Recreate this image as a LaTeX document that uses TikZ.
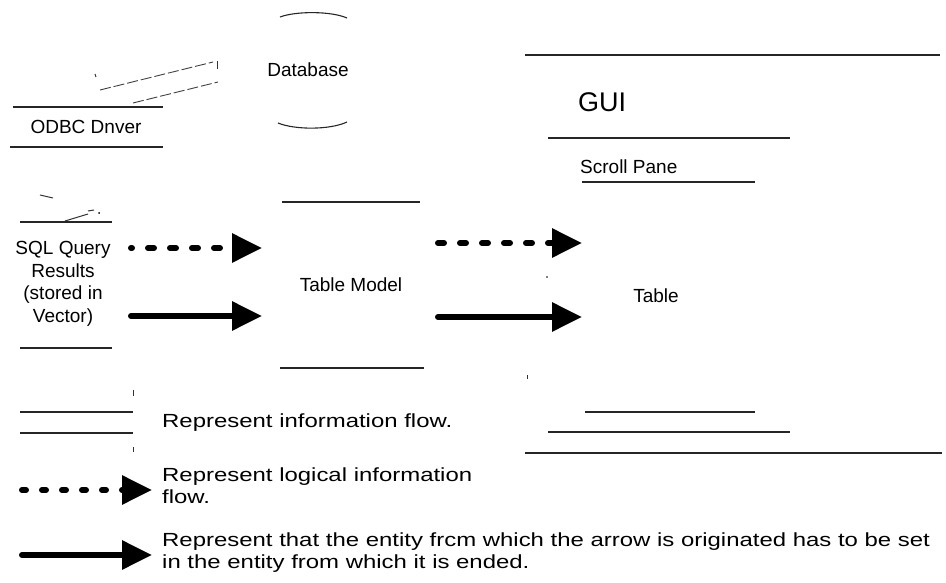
\documentclass[tikz,border=0pt]{standalone}
\usepackage{fontspec}
\setmainfont{Liberation Sans}
\newfontfamily\legfont{Liberation Sans}[FakeStretch=1.26]
\usetikzlibrary{arrows.meta}
\begin{document}
\begin{tikzpicture}[x=1pt,y=-1pt,
  lbl/.style={inner sep=0pt, font=\fontsize{19}{22.5}\selectfont},
  leg/.style={inner sep=0pt, anchor=west, align=left, font=\legfont\fontsize{19}{22}\selectfont},
  faint/.style={draw=black!85, line width=1.1pt},
  speck/.style={draw=black!80, line width=1pt},
  slant/.style={draw=black!75, line width=0.9pt, dash pattern=on 11pt off 3pt},
  solidarrow/.style={line width=6pt, line cap=round, -{Triangle[length=30pt 0 0,width=28pt 0 0]}},
  dasharrow/.style={solidarrow, dash pattern=on 6pt off 16pt},
]
\useasboundingbox (0,0) rectangle (946,583);

% ---- nodes (labels)
\node[lbl] (db) at (308,70) {Database};
\node[lbl] (odbc) at (86,127) {ODBC Dnver};
\node[lbl, align=center] (sql) at (63,284) {SQL Query\\Results\\(stored in\\Vector)};
\node[lbl] (tm) at (351,285) {Table Model};
\node[inner sep=0pt, anchor=west, font=\fontsize{27}{30}\selectfont] (gui) at (578,102) {GUI};
\node[lbl, anchor=west] (sp) at (580,167) {Scroll Pane};
\node[lbl] (tbl) at (656,296) {Table};

% ---- database (faded ellipse, only top and bottom arcs left)
\draw[faint] (280,17) .. controls (296,11) and (331,11) .. (347,18);
\draw[faint] (278,123) .. controls (295,130) and (330,130) .. (347,122);

% ---- ODBC driver box remnants
\draw[faint] (13,107) -- (163,107);
\draw[faint] (10,147) -- (163,147);
% remnants of the information-flow arrow to the database
\draw[slant] (100,90) -- (213,62);
\draw[slant] (133,103) -- (218,82);
\draw[speck] (95,74) -- (96,77);
\draw[speck] (217,61) -- (217,69);

% ---- remnants between ODBC and SQL results
\draw[speck] (40,195) -- (53,198);
\draw[speck] (65,221) -- (88,214);
\draw[speck] (88,211) -- (94,210);
\fill (99,213) circle (1pt);

% ---- SQL results box remnants
\draw[faint] (20,222) -- (112,222);
\draw[faint] (20,348) -- (112,348);

% ---- Table model box remnants
\draw[faint] (282,202) -- (420,202);
\draw[faint] (280,368) -- (424,368);

% ---- GUI / scroll pane / table boxes remnants
\draw[faint] (525,55) -- (940,55);
\draw[faint] (525,453) -- (942,453);
\draw[faint] (548,138) -- (790,138);
\draw[faint] (548,432) -- (790,432);
\draw[faint] (582,182) -- (755,182);
\draw[faint] (585,412) -- (755,412);
\draw[speck] (527,375) -- (527,379);
\fill (547,277) circle (0.8pt);

% ---- flow arrows
\coordinate (a1s) at (131,248); \coordinate (a1e) at (262,248);
\coordinate (b1s) at (131,316); \coordinate (b1e) at (262,316);
\coordinate (a2s) at (438,243); \coordinate (a2e) at (582,243);
\coordinate (b2s) at (438,317); \coordinate (b2e) at (582,317);
\draw[dasharrow, dash phase=5pt] (a1s) -- (a1e);
\draw[solidarrow] (b1s) -- (b1e);
\draw[dasharrow] (a2s) -- (a2e);
\draw[solidarrow] (b2s) -- (b2e);

% ---- legend
\draw[faint] (20,412) -- (133,412);
\draw[faint] (20,433) -- (133,433);
\draw[speck] (133,390) -- (133,396);
\draw[speck] (133,447) -- (133,452);
\node[leg] (l1) at (162,423) {Represent information flow.};

\coordinate (l2s) at (22,490); \coordinate (l2e) at (152,490);
\draw[dasharrow, dash pattern=on 4pt off 16pt] (l2s) -- (l2e);
\node[leg] (l2) at (162,486) {Represent logical information\\flow.};

\coordinate (l3s) at (22,555); \coordinate (l3e) at (152,555);
\draw[solidarrow] (l3s) -- (l3e);
\node[leg] (l3) at (162,553) {Represent that the entity frcm which the arrow is originated has to be set\\in the entity from which it is ended.};
\end{tikzpicture}
\end{document}
